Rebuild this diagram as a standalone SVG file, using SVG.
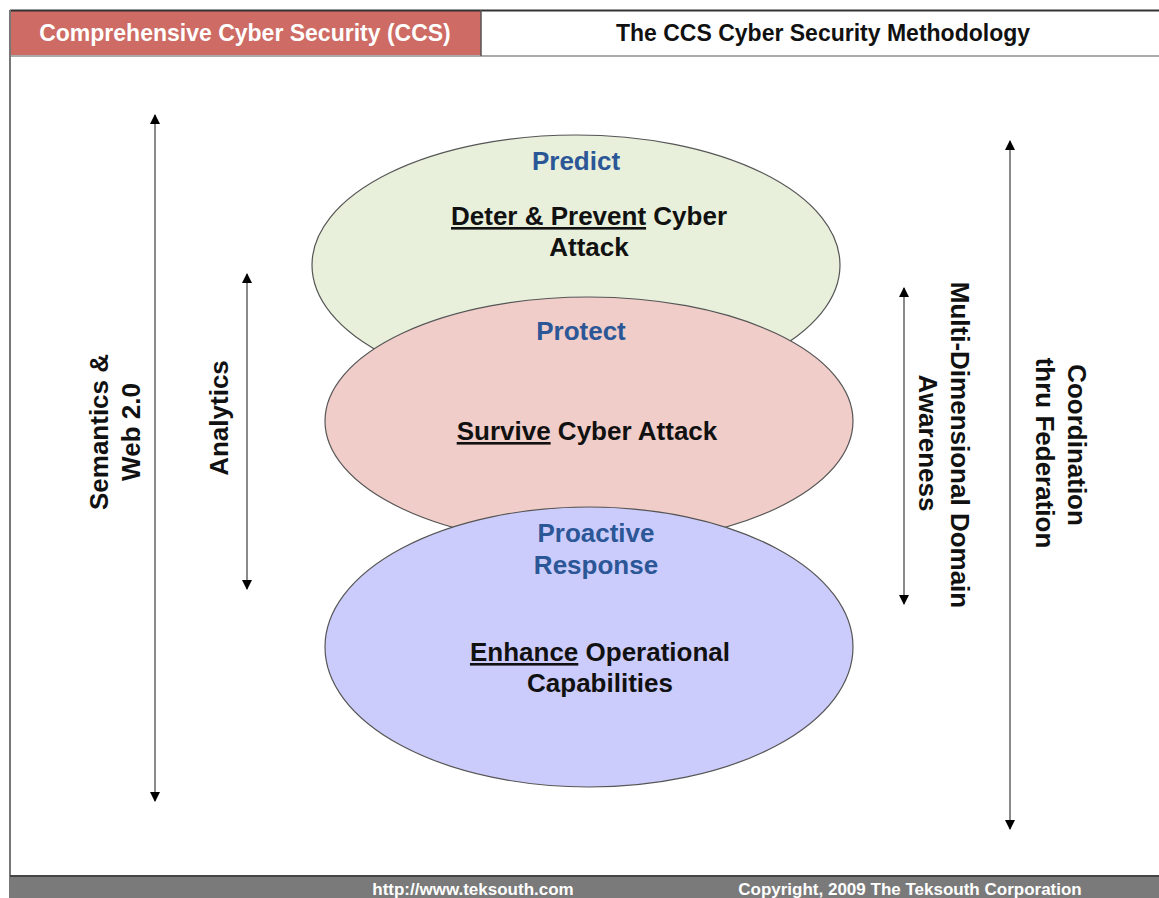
<svg xmlns="http://www.w3.org/2000/svg" width="1159" height="898" viewBox="0 0 1159 898">
<defs>
<marker id="ah" viewBox="0 0 10 14" refX="9" refY="5" markerWidth="10" markerHeight="14" markerUnits="userSpaceOnUse" orient="auto-start-reverse">
<path d="M0,0 L10,5 L0,10 Z" fill="#000"/>
</marker>
<style>
.t{font-family:"Liberation Sans",Arial,sans-serif;font-weight:bold;font-size:26px;text-anchor:middle;fill:#111}
.b{fill:#2b5797}
.u{text-decoration:underline}
.ar{stroke:#8a8a8a;stroke-width:2;fill:none;marker-start:url(#ah);marker-end:url(#ah)}
.el{stroke:#555;stroke-width:1.2}
.h{font-size:23px}
.f{font-size:17px;fill:#fff}
</style>
</defs>
<rect x="0" y="0" width="1159" height="898" fill="#fff"/>
<g id="header">
<rect x="10" y="10" width="471" height="46" fill="#cd6b64"/>
<line x1="10" y1="10.5" x2="1159" y2="10.5" stroke="#333" stroke-width="2"/>
<line x1="10" y1="56" x2="1159" y2="56" stroke="#aaa" stroke-width="2"/>
<line x1="481" y1="10" x2="481" y2="56" stroke="#555" stroke-width="1.5"/>
<text class="t h" x="245" y="41" style="fill:#fff">Comprehensive Cyber Security (CCS)</text>
<text class="t h" x="823" y="41">The CCS Cyber Security Methodology</text>
</g>
<line x1="10" y1="10" x2="10" y2="898" stroke="#777" stroke-width="2"/>
<g id="footer">
<rect x="10" y="876" width="1149" height="22" fill="#7a7a7a"/>
<line x1="10" y1="876" x2="1159" y2="876" stroke="#444" stroke-width="2"/>
<text class="t f" x="473" y="895">http://www.teksouth.com</text>
<text class="t f" x="910" y="895">Copyright, 2009 The Teksouth Corporation</text>
</g>
<g id="predict">
<ellipse class="el" cx="576" cy="265" rx="264" ry="130" fill="#e8f0dc"/>
<text class="t b" x="576" y="170">Predict</text>
<text class="t" x="589" y="225"><tspan class="u">Deter &amp; Prevent</tspan> Cyber</text>
<text class="t" x="589" y="256">Attack</text>
</g>
<g id="protect">
<ellipse class="el" cx="589" cy="421" rx="264" ry="124" fill="#f0cdc8"/>
<text class="t b" x="581" y="340">Protect</text>
<text class="t" x="587" y="440"><tspan class="u">Survive</tspan> Cyber Attack</text>
</g>
<g id="response">
<ellipse class="el" cx="589" cy="647" rx="264" ry="140" fill="#ccccfc"/>
<text class="t b" x="596" y="542">Proactive</text>
<text class="t b" x="596" y="574">Response</text>
<text class="t" x="600" y="661"><tspan class="u">Enhance</tspan> Operational</text>
<text class="t" x="600" y="692">Capabilities</text>
</g>
<g id="connectors">
<line class="ar" x1="155" y1="115" x2="155" y2="801"/>
<line class="ar" x1="247" y1="274" x2="247" y2="589"/>
<line class="ar" x1="904" y1="288" x2="904" y2="604"/>
<line class="ar" x1="1010" y1="141" x2="1010" y2="829"/>
</g>
<g id="label-semantics">
<text class="t" transform="translate(107.5,432) rotate(-90)">Semantics &amp;</text>
<text class="t" transform="translate(139.5,432) rotate(-90)">Web 2.0</text>
</g>
<g id="label-analytics">
<text class="t" transform="translate(227.5,418) rotate(-90)">Analytics</text>
</g>
<g id="label-mdd">
<text class="t" transform="translate(950.5,445) rotate(90)">Multi-Dimensional Domain</text>
<text class="t" transform="translate(918.5,443) rotate(90)">Awareness</text>
</g>
<g id="label-coord">
<text class="t" transform="translate(1067.5,445) rotate(90)">Coordination</text>
<text class="t" transform="translate(1035.5,453) rotate(90)">thru Federation</text>
</g>
</svg>
